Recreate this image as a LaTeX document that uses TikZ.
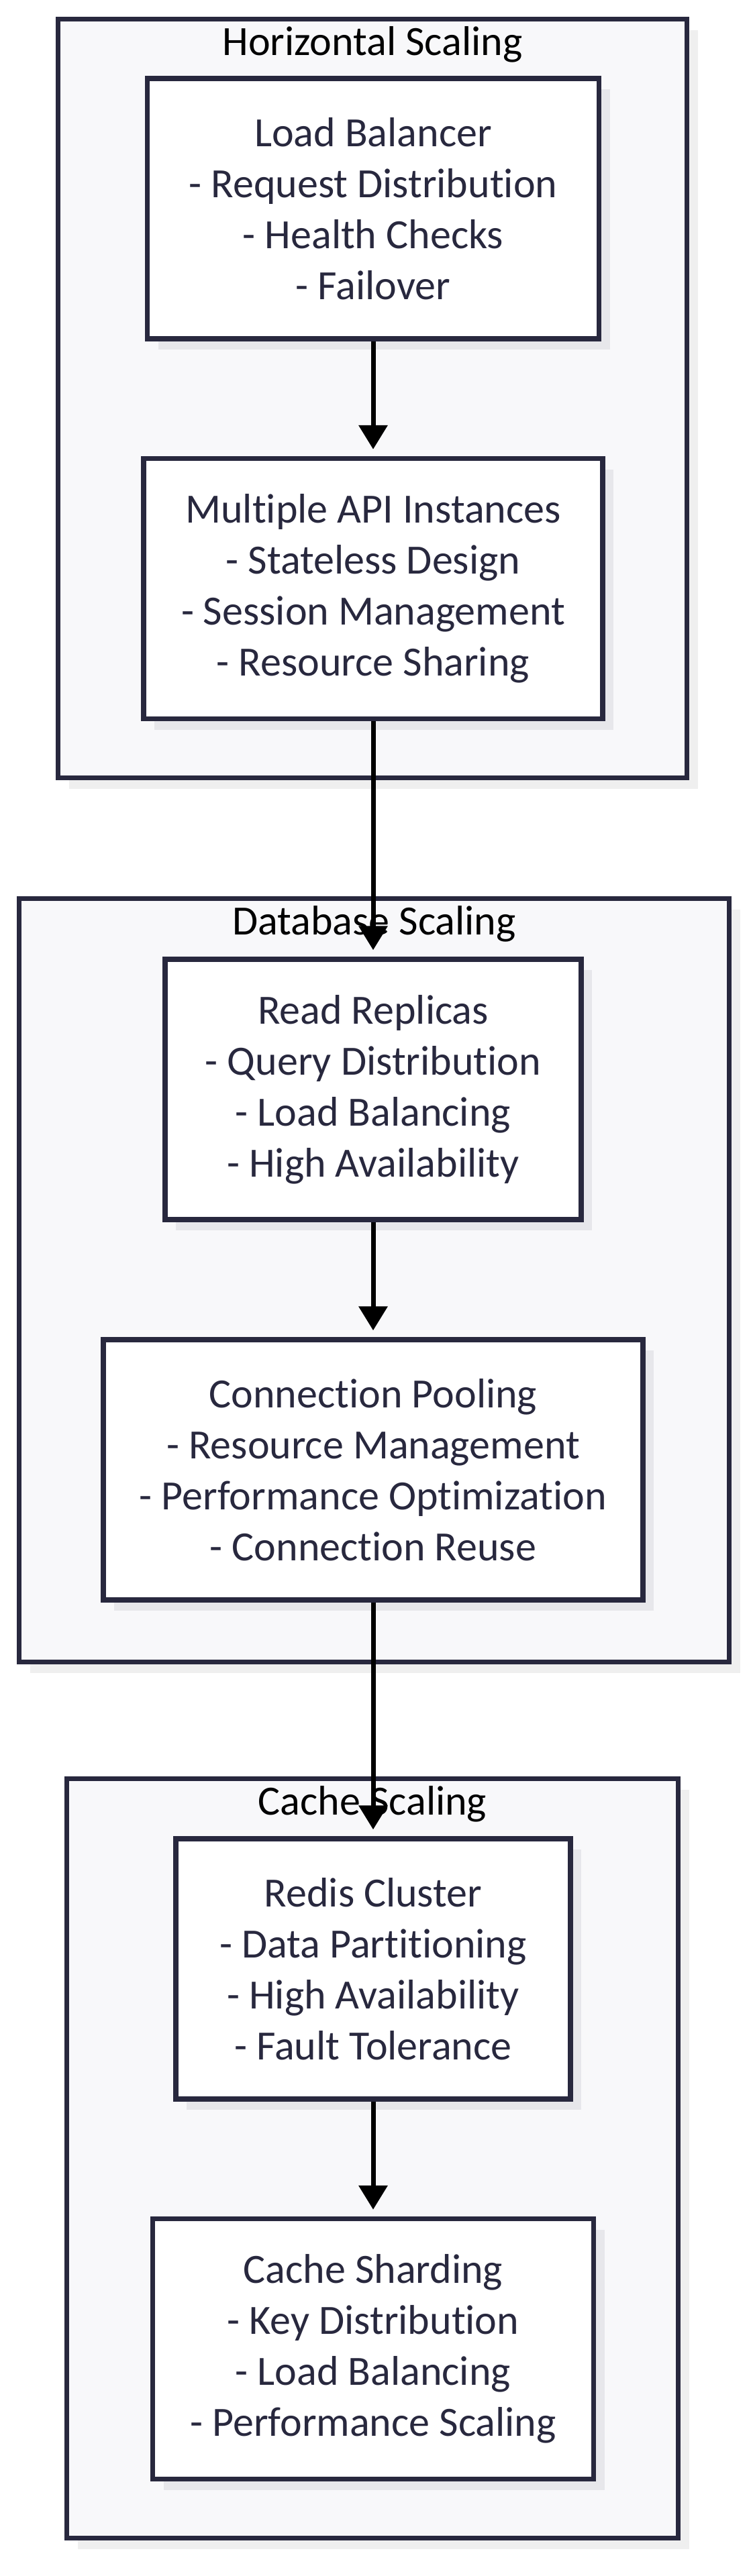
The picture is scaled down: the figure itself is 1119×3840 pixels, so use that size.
\documentclass[tikz,border=0pt]{standalone}
\usepackage{fontspec}
\setmainfont{Carlito}[Ligatures=NoCommon]
\usetikzlibrary{arrows.meta,shadows}

\definecolor{borde}{RGB}{40,40,62}
\definecolor{texto}{RGB}{40,40,62}
\definecolor{fondogrupo}{RGB}{248,248,250}
\definecolor{sombracaja}{RGB}{231,231,235}
\definecolor{sombragrupo}{RGB}{239,239,239}

\begin{document}
\begin{tikzpicture}[x=0.5pt, y=-0.5pt,
    grupo/.style={draw=borde, line width=3.75pt, fill=fondogrupo, inner sep=0pt,
      drop shadow={shadow xshift=8pt, shadow yshift=-8pt, fill=sombragrupo, opacity=1}},
    titulo/.style={font=\fontsize{31}{38}\selectfont, text=black},
    caja/.style={draw=borde, line width=3.75pt, fill=white, align=center, text=texto,
      font=\fontsize{31}{38}\selectfont, minimum height=194pt, inner sep=0pt,
      drop shadow={shadow xshift=8pt, shadow yshift=-8pt, fill=sombracaja, opacity=1}},
    flecha/.style={-{Triangle[length=18pt,width=21pt]}, line width=3.5pt, shorten >=5pt}]
    \useasboundingbox (0,0) rectangle (1119,3840);

    % Dibuja el grupo de escalado horizontal
    \node[grupo, minimum width=468.5pt, minimum height=565.5pt] (hs) at (555,594) {};
    \node[titulo] (hstit) at ([yshift=-21pt]hs.north) {Horizontal Scaling};
    \node[caja, minimum width=336.5pt] (lb) at (556,311)
        {Load Balancer\\- Request Distribution\\- Health Checks\\- Failover};
    \node[caja, minimum width=342pt] (api) at (556,877.5)
        {Multiple API Instances\\- Stateless Design\\- Session Management\\- Resource Sharing};

    % Dibuja el grupo de escalado de base de datos
    \node[grupo, minimum width=529pt, minimum height=569pt] (db) at (557.5,1908.5) {};
    \node[titulo] (dbtit) at ([yshift=-21pt]db.north) {Database Scaling};
    \node[caja, minimum width=310pt] (rr) at (556,1624)
        {Read Replicas\\- Query Distribution\\- Load Balancing\\- High Availability};
    \node[caja, minimum width=402pt] (cp) at (556,2191)
        {Connection Pooling\\- Resource Management\\- Performance Optimization\\- Connection Reuse};

    % Dibuja el grupo de escalado de cache
    \node[grupo, minimum width=455.5pt, minimum height=566pt] (cs) at (555,3217.5) {};
    \node[titulo] (cstit) at ([yshift=-21pt]cs.north) {Cache Scaling};
    \node[caja, minimum width=294pt] (rc) at (556,2935)
        {Redis Cluster\\- Data Partitioning\\- High Availability\\- Fault Tolerance};
    \node[caja, minimum width=328.5pt] (sh) at (556,3501.5)
        {Cache Sharding\\- Key Distribution\\- Load Balancing\\- Performance Scaling};

    % Dibuja las flechas
    \draw[flecha] (lb) -- (api);
    \draw[flecha] (api) -- (rr);
    \draw[flecha] (rr) -- (cp);
    \draw[flecha] (cp) -- (rc);
    \draw[flecha] (rc) -- (sh);
\end{tikzpicture}
\end{document}
